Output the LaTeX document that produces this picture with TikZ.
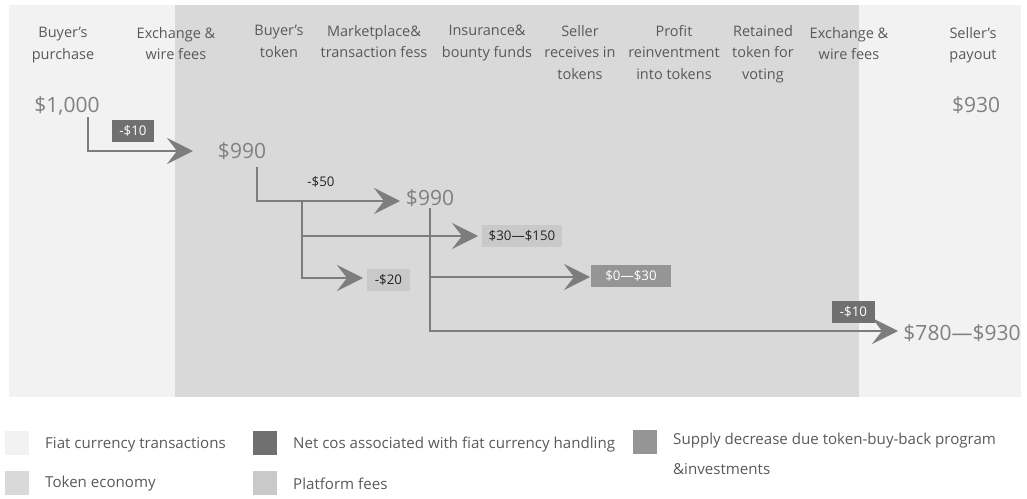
\documentclass[tikz,border=0pt]{standalone}
\usepackage{fontspec}
\setmainfont{Open Sans}
\usetikzlibrary{arrows.meta}
\definecolor{fiat}{HTML}{F2F2F2}
\definecolor{tokeneco}{HTML}{D9D9D9}
\definecolor{netcos}{HTML}{707070}
\definecolor{platf}{HTML}{C9C9C9}
\definecolor{supply}{HTML}{959595}
\definecolor{txt}{HTML}{595959}
\definecolor{amt}{HTML}{808080}
\definecolor{lin}{HTML}{7D7D7D}
\begin{document}
\begin{tikzpicture}[x=1pt,y=-1pt,
  hdr/.style={align=center, text=txt, font=\fontsize{14.5}{21.5}\selectfont, anchor=north, inner sep=0pt},
  amount/.style={text=amt, font=\fontsize{21}{21}\selectfont, inner sep=0pt, anchor=base},
  arr/.style={draw=lin, line width=2pt, -{Stealth[length=26pt,width=26pt,inset=10pt]}},
  tagbox/.style={font=\fontsize{13.3}{13.3}\selectfont, inner sep=0pt, minimum height=22pt, text=black!85},
  legsq/.style={minimum size=24pt, inner sep=0pt, draw=none},
  legtxt/.style={text=txt, font=\fontsize{15.1}{30}\selectfont, anchor=west, inner sep=0pt, align=left}
]
\useasboundingbox (0,0) rectangle (1027,498);
% backgrounds
\fill[fiat] (9,5) rectangle (1021,397);
\fill[tokeneco] (175,5) rectangle (859,397);

% headers
\node[hdr] (h1) at (63,27) {Buyer’s\\purchase};
\node[hdr] (h2) at (176,27) {Exchange \&\\wire fees};
\node[hdr] (h3) at (279,25) {Buyer’s\\token};
\node[hdr] (h4) at (374,25) {Marketplace\&\\transaction fess};
\node[hdr] (h5) at (487,25) {Insurance\&\\bounty funds};
\node[hdr] (h6) at (580,25) {Seller\\receives in\\tokens};
\node[hdr] (h7) at (674,25) {Profit\\reinventment\\into tokens};
\node[hdr] (h8) at (763,25) {Retained\\token for\\voting};
\node[hdr] (h9) at (849,27) {Exchange \&\\wire fees};
\node[hdr] (h10) at (973,27) {Seller’s\\payout};

% amounts
\node[amount] (a1000) at (67,112) {\$1,000};
\node[amount] (a930) at (976,112) {\$930};
\node[amount] (a990a) at (242,158) {\$990};
\node[amount] (a990b) at (430,205) {\$990};
\node[amount] (afinal) at (962,340) {\$780—\$930};

% connector coordinates
\coordinate (s1) at (88,117);
\coordinate (t1) at (193,151);
\coordinate (s2) at (257,167);
\coordinate (t2) at (400,201);
\coordinate (b1) at (302,201);
\coordinate (t3) at (478,236);
\coordinate (t4) at (363,278);
\coordinate (s3) at (430,208);
\coordinate (t5) at (590,277);
\coordinate (t6) at (898,331);

% connectors
\draw[arr] (s1) |- (t1);
\draw[arr] (s2) |- (t2);
\draw[arr] (b1) |- (t4);
\draw[arr] (b1 |- t3) -- (t3);
\draw[arr] (s3) |- (t6);
\draw[arr] (s3 |- t5) -- (t5);

% tags
\node[tagbox, fill=netcos, text=white, minimum width=42pt] (m10a) at (133,131) {-\$10};
\node[font=\fontsize{13.3}{13.3}\selectfont, text=black!85, inner sep=0pt] (m50) at (321,182) {-\$50};
\node[tagbox, fill=platf, minimum width=80pt] (r30) at (522,236) {\$30—\$150};
\node[tagbox, fill=platf, minimum width=43pt] (m20) at (388.5,279.5) {-\$20};
\node[tagbox, fill=supply, text=white, minimum width=80pt] (r0) at (631,275.5) {\$0—\$30};
\node[tagbox, fill=netcos, text=white, minimum width=43pt] (m10b) at (853.5,311.5) {-\$10};

% legend
\node[legsq, fill=fiat] (l1) at (17,442.5) {};
\node[legtxt] (lt1) at (45,445) {Fiat currency transactions};
\node[legsq, fill=tokeneco] (l2) at (17,482.5) {};
\node[legtxt] (lt2) at (45,484) {Token economy};
\node[legsq, fill=netcos] (l3) at (264.5,442.5) {};
\node[legtxt] (lt3) at (293,445) {Net cos associated with fiat currency handling};
\node[legsq, fill=platf] (l4) at (264.5,482.5) {};
\node[legtxt] (lt4) at (293,484) {Platform fees};
\node[legsq, fill=supply] (l5) at (644.5,442) {};
\node[legtxt, anchor=north west] (lt5) at (673,433) {Supply decrease due token-buy-back program\\\&investments};
\end{tikzpicture}
\end{document}
